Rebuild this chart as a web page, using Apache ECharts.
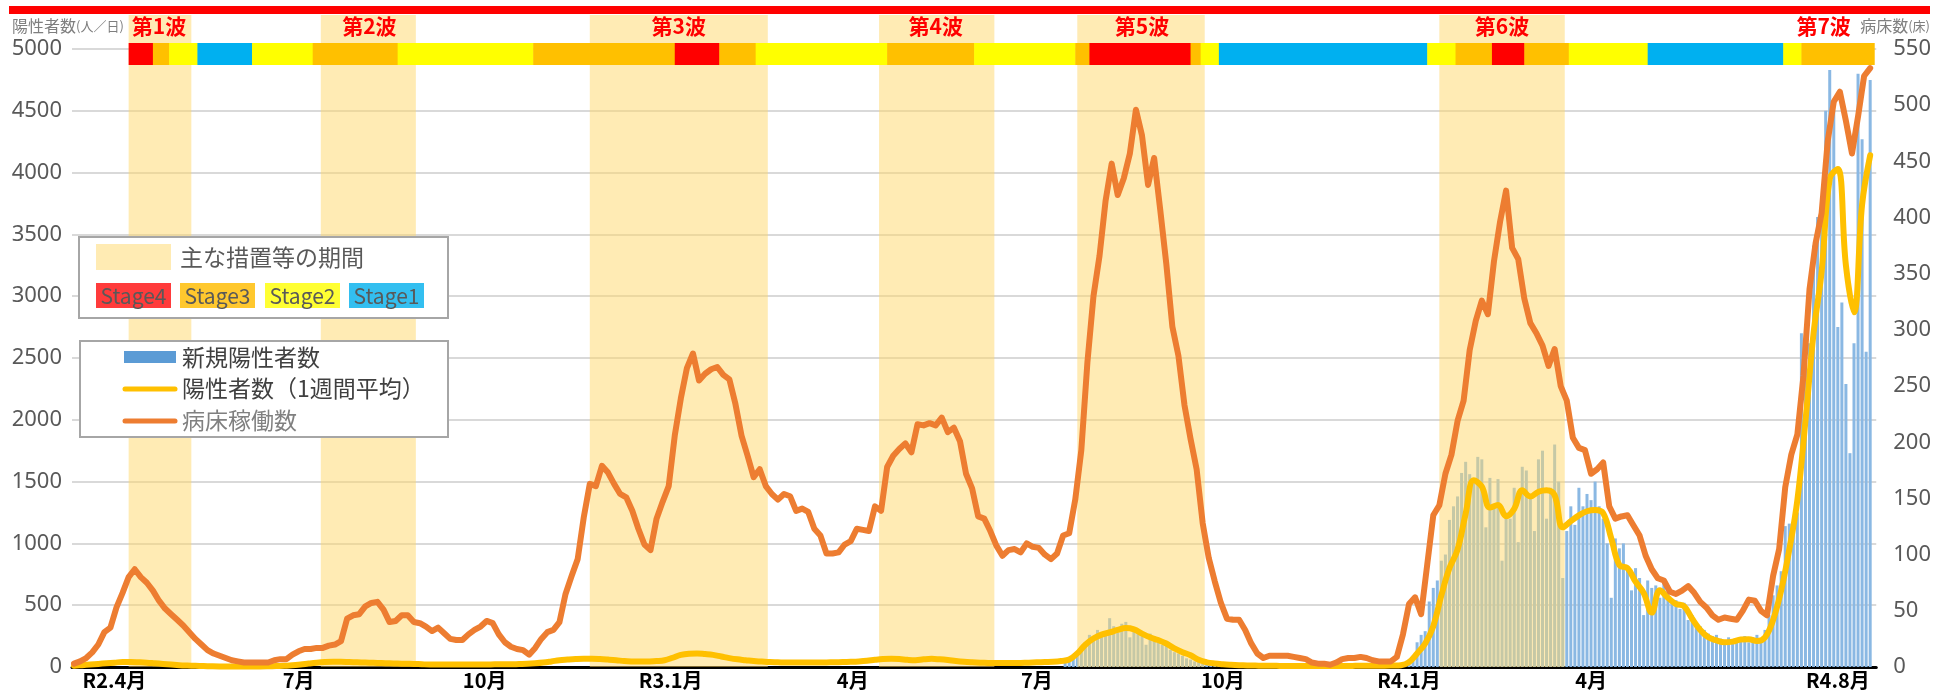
<!DOCTYPE html>
<html>
<head>
<meta charset="utf-8">
<title>陽性者数と病床稼働数の推移</title>
<script src="https://cdn.jsdelivr.net/npm/echarts@6/dist/echarts.min.js"></script>
<style>
  html, body { margin: 0; padding: 0; background: #fff; }
  #chart { width: 1934px; height: 690px; }
</style>
</head>
<body>
<div id="chart"></div>
<script>
// 横軸は 2020-03-11 からの日数
const baseDate = '2020-03-11';
const axisEndDate = '2022-08-20';

const monthTicks = ['2020-04-01', '2020-07-01', '2020-10-01', '2021-01-01', '2021-04-01',
  '2021-07-01', '2021-10-01', '2022-01-01', '2022-04-01', '2022-08-01'];
const monthLabels = ['R2.4月', '7月', '10月', 'R3.1月', '4月', '7月', '10月', 'R4.1月', '4月', 'R4.8月'];

// 病床稼働数（床）3日おき
const bedStart = '2020-03-12';
const bedStep = 3;
const bedValues = [
  3, 5, 8, 13, 20, 31, 35, 53, 66, 80,
  87, 80, 75, 68, 59, 52, 47, 42, 37, 31,
  25, 20, 15, 12, 10, 8, 6, 5, 4, 4,
  4, 4, 4, 6, 7, 7, 11, 14, 16, 16,
  17, 17, 19, 20, 23, 43, 46, 47, 54, 57,
  58, 51, 40, 41, 46, 46, 40, 39, 36, 32,
  35, 30, 25, 24, 24, 29, 33, 36, 41, 39,
  29, 22, 18, 16, 15, 11, 17, 25, 31, 33,
  40, 65, 81, 96, 133, 163, 161, 179, 173, 163,
  154, 151, 139, 123, 109, 104, 132, 147, 161, 206,
  239, 266, 279, 255, 261, 265, 267, 260, 256, 234,
  206, 188, 169, 176, 161, 154, 149, 154, 152, 139,
  141, 138, 123, 117, 101, 101, 102, 109, 112, 123,
  122, 121, 143, 139, 178, 188, 194, 199, 191, 216,
  215, 217, 215, 222, 209, 213, 201, 172, 159, 134,
  132, 121, 108, 99, 104, 105, 102, 110, 107, 106,
  100, 96, 101, 117, 119, 149, 193, 271, 330, 366,
  415, 448, 420, 435, 457, 496, 473, 429, 453, 407,
  359, 303, 277, 233, 203, 176, 128, 97, 76, 57,
  43, 42, 42, 33, 21, 12, 8, 10, 10, 10,
  10, 9, 8, 7, 4, 3, 3, 2, 4, 7,
  8, 8, 9, 8, 6, 5, 5, 5, 9, 29,
  56, 62, 47, 91, 135, 144, 172, 189, 219, 237,
  282, 308, 326, 314, 361, 396, 424, 373, 363, 328,
  306, 297, 286, 268, 283, 250, 237, 204, 195, 193,
  172, 176, 182, 143, 132, 134, 135, 126, 117, 99,
  87, 79, 77, 67, 65, 68, 72, 66, 58, 53,
  46, 42, 44, 43, 42, 50, 60, 59, 50, 46,
  81, 105, 160, 189, 207, 259, 336, 377, 404, 468,
  503, 512, 486, 457, 490, 526, 533
];

// 陽性者数（1週間平均）4日おき
const avgStart = '2020-03-12';
const avgStep = 4;
const avgValues = [
  10, 15, 20, 25, 30, 35, 40, 40, 38, 35,
  30, 25, 20, 15, 12, 10, 8, 6, 5, 5,
  5, 5, 5, 5, 6, 8, 10, 15, 20, 28,
  35, 40, 42, 42, 40, 38, 36, 34, 32, 30,
  28, 26, 25, 22, 20, 20, 20, 20, 20, 20,
  20, 20, 22, 22, 22, 24, 26, 30, 36, 45,
  55, 60, 64, 66, 66, 64, 60, 55, 48, 45,
  44, 45, 48, 55, 75, 98, 108, 110, 105, 98,
  85, 72, 62, 55, 48, 44, 40, 38, 36, 36,
  36, 36, 36, 37, 38, 40, 42, 45, 50, 58,
  64, 66, 64, 58, 55, 62, 66, 62, 56, 48,
  42, 38, 35, 33, 32, 32, 32, 33, 35, 38,
  40, 42, 48, 60, 110, 180, 230, 262, 280, 300,
  315, 305, 270, 240, 218, 190, 150, 120, 95, 58,
  38, 28, 22, 18, 15, 13, 12, 10, 10, 9,
  8, 8, 8, 8, 8, 8, 8, 8, 9, 10,
  10, 10, 10, 12, 15, 40, 110, 190, 330, 580,
  800, 950, 1240, 1510, 1460, 1290, 1310, 1220, 1280, 1430,
  1380, 1418, 1430, 1390, 1130, 1180, 1227, 1260, 1270, 1245,
  1040, 825, 800, 690, 600, 440, 620, 560, 510, 492,
  390, 300, 240, 215, 200, 205, 222, 225, 210, 240,
  380, 620, 950, 1350, 1990, 2700, 3200, 3950, 4030, 3250,
  2870, 3740, 4140
];

// 新規陽性者数 2日おき
const newStart = '2021-07-15';
const newStep = 2;
const newValues = [
  40, 55, 80, 120, 170, 200, 260, 230, 300, 250,
  290, 395, 330, 280, 350, 365, 240, 320, 300, 260,
  180, 270, 250, 200, 180, 170, 140, 120, 110, 90,
  70, 60, 45, 40, 30, 25, 20, 18, 15, 12,
  12, 10, 10, 9, 10, 8, 9, 8, 8, 7,
  9, 8, 8, 7, 8, 8, 9, 8, 7, 8,
  8, 9, 8, 8, 9, 8, 7, 8, 9, 10,
  9, 8, 10, 9, 10, 11, 10, 9, 10, 11,
  10, 12, 14,
  20, 30, 60, 90, 200, 260, 290, 530, 640, 700,
  860, 910, 1190, 1300, 1380, 1570, 1660, 1560, 1500, 1700,
  1680, 1130, 1530, 1300, 1520, 860, 1250, 1200, 1450, 1010,
  1620, 1590, 1400, 1100, 1680, 1750, 1200, 1450, 1800, 1500,
  720, 1100, 1300, 1150, 1450, 1300, 1400, 1350, 1500, 1300,
  1200, 1000, 560, 1040, 960, 1000, 820, 620, 800, 720,
  420, 700, 640, 660, 560, 700, 620, 520, 540, 470,
  520, 380, 420, 340, 330, 300, 270, 250, 260, 230,
  200, 240, 220, 210, 230, 250, 200, 240, 260, 230,
  300, 420, 580, 660, 775, 1140, 1160, 1100, 1250, 2700,
  2450, 2620, 3410, 3640, 3780, 4500, 4830, 4500, 2750, 2950,
  2290, 1730, 2620, 4800, 4270, 2550, 4750
];

// 主な措置等の期間
const periodStarts = ['2020-04-08', '2020-07-12', '2020-11-22', '2021-04-14', '2021-07-21', '2022-01-16'];
const periodEnds = ['2020-05-09', '2020-08-28', '2021-02-18', '2021-06-10', '2021-09-22', '2022-03-19'];

const waveNames = ['第1波', '第2波', '第3波', '第4波', '第5波', '第6波', '第7波'];
const waveDates = ['2020-04-23', '2020-08-05', '2021-01-05', '2021-05-12', '2021-08-22', '2022-02-16', '2022-07-25'];

// ステージ（開始日と段階）
const stageStarts = ['2020-04-08', '2020-04-20', '2020-04-28', '2020-05-12', '2020-06-08', '2020-07-08',
  '2020-08-19', '2020-10-25', '2021-01-03', '2021-01-25', '2021-02-12', '2021-04-18', '2021-05-31',
  '2021-07-20', '2021-07-27', '2021-09-15', '2021-09-20', '2021-09-29', '2022-01-10', '2022-01-24',
  '2022-02-11', '2022-02-27', '2022-03-21', '2022-04-29', '2022-07-05', '2022-07-14'];
const stageLevels = [4, 3, 2, 1, 2, 3, 2, 3, 4, 3, 2, 3, 2, 3, 4, 3, 2, 1, 2, 3, 4, 3, 2, 1, 2, 3];
const stageEnd = '2022-08-19';

const stageColors = { 4: '#FF0000', 3: '#FFC000', 2: '#FFFF00', 1: '#00B0F0' };

const FONT = "'Noto Sans CJK JP', 'Noto Sans', sans-serif";
const NUM_FONT = "'Liberation Sans Narrow', 'Noto Sans', sans-serif";

function toDay(s) {
  return (Date.parse(s) - Date.parse(baseDate)) / 864e5;
}

const labelByDay = {};
monthTicks.forEach((d, i) => { labelByDay[toDay(d)] = monthLabels[i]; });

const bedData = bedValues.map((v, i) => [toDay(bedStart) + i * bedStep, v]);
const avgData = avgValues.map((v, i) => [toDay(avgStart) + i * avgStep, v]);
const newData = newValues.map((v, i) => [toDay(newStart) + i * newStep, v]);
const periodData = periodStarts.map((s, i) => [toDay(s), toDay(periodEnds[i]), 0]);
const waveData = waveDates.map(d => [toDay(d), 0]);
const stageData = stageStarts.map((s, i) => [toDay(s), toDay(stageStarts[i + 1] || stageEnd), stageLevels[i]]);

const chart = echarts.init(document.getElementById('chart'));

const option = {
  animation: false,
  grid: { left: 72, right: 57, top: 49, bottom: 22 },
  xAxis: {
    type: 'value',
    min: 0,
    max: toDay(axisEndDate),
    splitLine: { show: false },
    axisTick: { show: false },
    axisLine: { lineStyle: { color: '#000', width: 3 } },
    axisLabel: {
      customValues: monthTicks.map(toDay),
      formatter: v => labelByDay[Math.round(v)] || '',
      color: '#000',
      fontWeight: 'bold',
      fontSize: 20,
      fontFamily: FONT,
      margin: 3
    }
  },
  yAxis: [
    {
      type: 'value',
      min: 0,
      max: 5000,
      interval: 500,
      axisLine: { show: false },
      axisTick: { show: false },
      splitLine: { lineStyle: { color: '#D9D9D9', width: 2 } },
      axisLabel: { formatter: v => String(v), color: '#595959', fontSize: 22, fontFamily: NUM_FONT, margin: 10 }
    },
    {
      type: 'value',
      min: 0,
      max: 550,
      interval: 50,
      axisLine: { show: false },
      axisTick: { show: false },
      splitLine: { show: false },
      axisLabel: { formatter: v => String(v), color: '#595959', fontSize: 22, fontFamily: NUM_FONT, margin: 17 }
    }
  ],
  series: [
    {
      name: '新規陽性者数',
      type: 'bar',
      data: newData,
      barWidth: 3,
      itemStyle: { color: '#8AB8E3' },
      z: 1
    },
    {
      name: '主な措置等の期間',
      type: 'custom',
      data: periodData,
      encode: { x: [0, 1], y: 2 },
      clip: false,
      silent: true,
      z: 2,
      renderItem: function (params, api) {
        const cs = params.coordSys;
        const a = api.coord([api.value(0), 0]);
        const b = api.coord([api.value(1), 0]);
        const top = cs.y - 34;
        return {
          type: 'rect',
          shape: { x: a[0], y: top, width: b[0] - a[0], height: a[1] - top },
          style: { fill: 'rgba(255,215,105,0.5)' }
        };
      }
    },
    {
      name: '陽性者数（1週間平均）',
      type: 'line',
      data: avgData,
      showSymbol: false,
      smooth: 0.4,
      lineStyle: { color: '#FFC000', width: 6, cap: 'round', join: 'round' },
      z: 3
    },
    {
      name: '病床稼働数',
      type: 'line',
      yAxisIndex: 1,
      data: bedData,
      showSymbol: false,
      lineStyle: { color: '#ED7D31', width: 6, cap: 'round', join: 'round' },
      z: 4
    },
    {
      name: 'ステージ',
      type: 'custom',
      data: stageData,
      encode: { x: [0, 1], y: 2 },
      clip: false,
      silent: true,
      z: 5,
      renderItem: function (params, api) {
        const cs = params.coordSys;
        const a = api.coord([api.value(0), 0]);
        const b = api.coord([api.value(1), 0]);
        return {
          type: 'rect',
          shape: { x: a[0], y: cs.y - 6, width: b[0] - a[0] + 0.5, height: 22 },
          style: { fill: stageColors[api.value(2)] }
        };
      }
    },
    {
      name: '波',
      type: 'custom',
      data: waveData,
      encode: { x: 0, y: 1 },
      clip: false,
      silent: true,
      z: 6,
      renderItem: function (params, api) {
        const cs = params.coordSys;
        const p = api.coord([api.value(0), 0]);
        return {
          type: 'text',
          x: p[0],
          y: cs.y - 23,
          style: {
            text: waveNames[params.dataIndex],
            fill: '#FF0000',
            font: 'bold 21px ' + FONT,
            align: 'center',
            verticalAlign: 'middle'
          }
        };
      }
    }
  ],
  graphic: [
    { type: 'rect', z: 100, shape: { x: 9, y: 6, width: 1921, height: 8 }, style: { fill: '#FF0000' } },
    {
      type: 'text', z: 100, x: 12, y: 26,
      style: {
        text: '{a|陽性者数}{b|(人／日)}',
        verticalAlign: 'middle',
        rich: {
          a: { fontSize: 16, fontFamily: FONT, fill: '#7F7F7F' },
          b: { fontSize: 13, fontFamily: FONT, fill: '#7F7F7F' }
        }
      }
    },
    {
      type: 'text', z: 100, x: 1930, y: 26,
      style: {
        text: '{a|病床数}{b|(床)}',
        align: 'right',
        verticalAlign: 'middle',
        rich: {
          a: { fontSize: 16, fontFamily: FONT, fill: '#7F7F7F' },
          b: { fontSize: 13, fontFamily: FONT, fill: '#7F7F7F' }
        }
      }
    },
    // 凡例1
    { type: 'rect', z: 100, shape: { x: 79, y: 237, width: 369, height: 81 }, style: { fill: '#fff', stroke: '#A6A6A6', lineWidth: 2 } },
    { type: 'rect', z: 101, shape: { x: 96, y: 244, width: 75, height: 26 }, style: { fill: '#FFEBB3' } },
    { type: 'text', z: 101, x: 180, y: 257, style: { text: '主な措置等の期間', font: '23px ' + FONT, fill: '#595959', verticalAlign: 'middle' } },
    { type: 'rect', z: 101, shape: { x: 96, y: 283, width: 75, height: 25 }, style: { fill: '#FF3B3B' } },
    { type: 'rect', z: 101, shape: { x: 180, y: 283, width: 75, height: 25 }, style: { fill: '#FFC82E' } },
    { type: 'rect', z: 101, shape: { x: 265, y: 283, width: 75, height: 25 }, style: { fill: '#FFFF33' } },
    { type: 'rect', z: 101, shape: { x: 349, y: 283, width: 75, height: 25 }, style: { fill: '#33BFF0' } },
    { type: 'text', z: 102, x: 133.5, y: 296, style: { text: 'Stage4', font: '21px ' + FONT, fill: '#595959', align: 'center', verticalAlign: 'middle' } },
    { type: 'text', z: 102, x: 217.5, y: 296, style: { text: 'Stage3', font: '21px ' + FONT, fill: '#595959', align: 'center', verticalAlign: 'middle' } },
    { type: 'text', z: 102, x: 302.5, y: 296, style: { text: 'Stage2', font: '21px ' + FONT, fill: '#595959', align: 'center', verticalAlign: 'middle' } },
    { type: 'text', z: 102, x: 386.5, y: 296, style: { text: 'Stage1', font: '21px ' + FONT, fill: '#595959', align: 'center', verticalAlign: 'middle' } },
    // 凡例2
    { type: 'rect', z: 100, shape: { x: 80, y: 341, width: 368, height: 96 }, style: { fill: '#fff', stroke: '#A6A6A6', lineWidth: 2 } },
    { type: 'rect', z: 101, shape: { x: 124, y: 351, width: 52, height: 12 }, style: { fill: '#5B9BD5' } },
    { type: 'text', z: 101, x: 182, y: 357, style: { text: '新規陽性者数', font: '23px ' + FONT, fill: '#404040', verticalAlign: 'middle' } },
    { type: 'line', z: 101, shape: { x1: 125, y1: 389, x2: 175, y2: 389 }, style: { stroke: '#FFC000', lineWidth: 5, lineCap: 'round' } },
    { type: 'text', z: 101, x: 182, y: 388, style: { text: '陽性者数（1週間平均）', font: '23px ' + FONT, fill: '#404040', verticalAlign: 'middle' } },
    { type: 'line', z: 101, shape: { x1: 125, y1: 421, x2: 175, y2: 421 }, style: { stroke: '#ED7D31', lineWidth: 5, lineCap: 'round' } },
    { type: 'text', z: 101, x: 182, y: 420, style: { text: '病床稼働数', font: '23px ' + FONT, fill: '#808080', verticalAlign: 'middle' } }
  ]
};

chart.setOption(option);
</script>
</body>
</html>
